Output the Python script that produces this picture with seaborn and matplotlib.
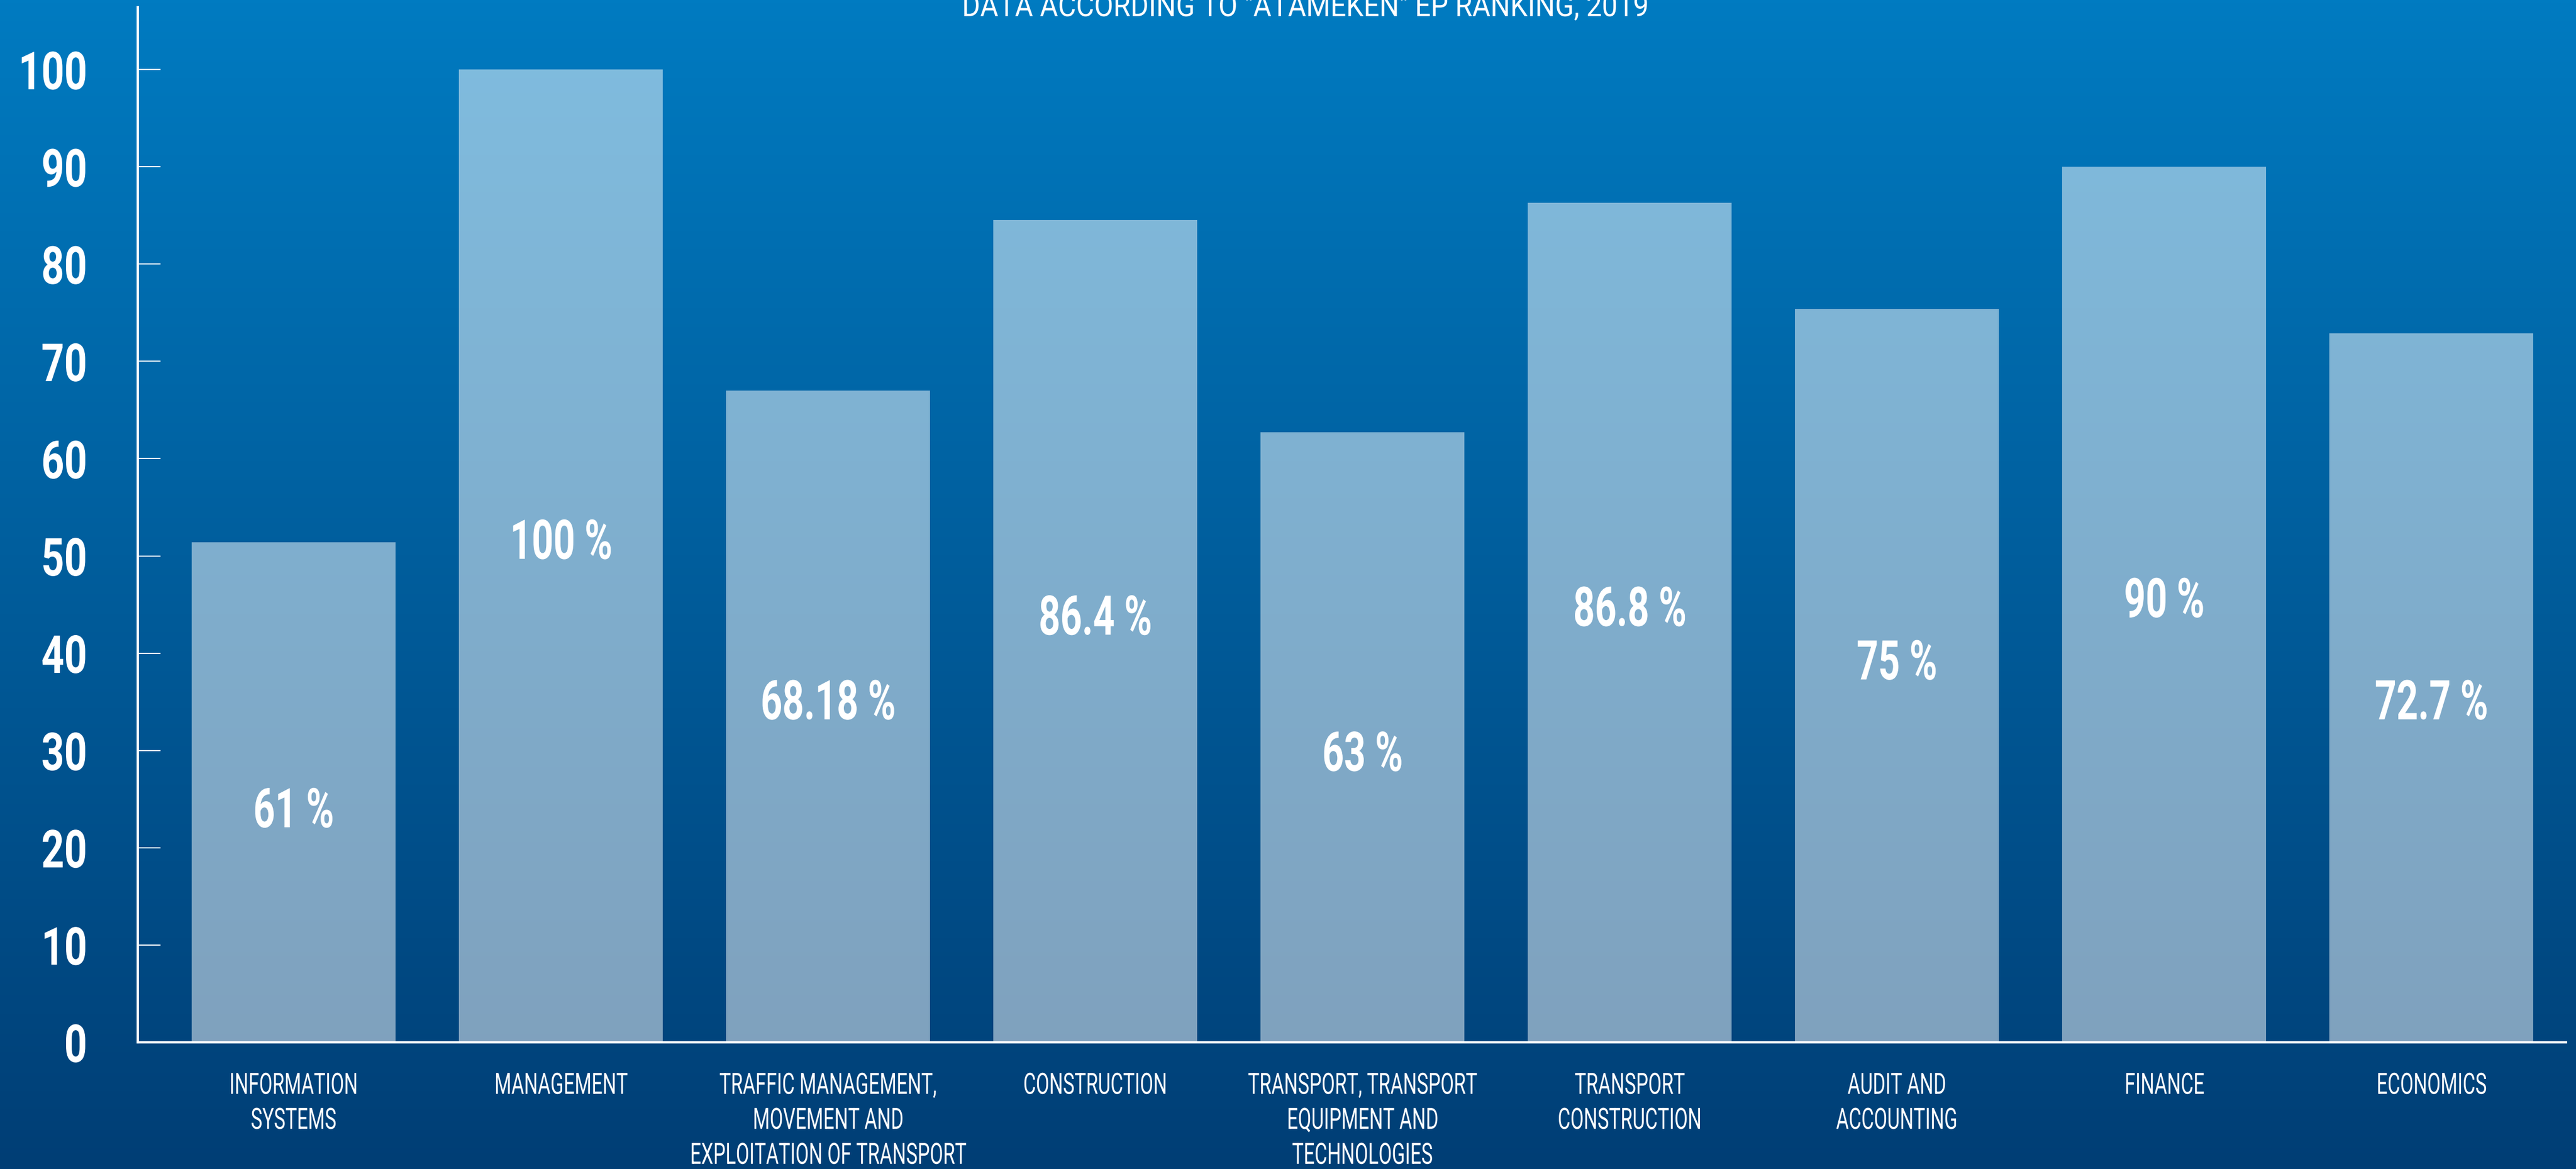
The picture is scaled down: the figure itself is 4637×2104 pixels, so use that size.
import matplotlib

matplotlib.use("Agg")

import matplotlib.pyplot as plt
import numpy as np
import seaborn as sns
from matplotlib.patheffects import AbstractPathEffect
from matplotlib.transforms import Affine2D

categories = [
    "INFORMATION\nSYSTEMS",
    "MANAGEMENT",
    "TRAFFIC MANAGEMENT,\nMOVEMENT AND\nEXPLOITATION OF TRANSPORT",
    "CONSTRUCTION",
    "TRANSPORT, TRANSPORT\nEQUIPMENT AND\nTECHNOLOGIES",
    "TRANSPORT\nCONSTRUCTION",
    "AUDIT AND\nACCOUNTING",
    "FINANCE",
    "ECONOMICS",
]
bar_heights = [51.4, 100.0, 67.0, 84.5, 62.7, 86.3, 75.4, 90.0, 72.9]
value_labels = ["61 %", "100 %", "68.18 %", "86.4 %", "63 %", "86.8 %", "75 %", "90 %", "72.7 %"]
label_heights = [22.1, 49.7, 33.2, 41.9, 27.9, 42.8, 37.3, 43.7, 33.2]
y_ticks = list(range(0, 101, 10))
title = 'DATA ACCORDING TO "ATAMEKEN" EP RANKING, 2019'


class Condense(AbstractPathEffect):
    """Squeeze text horizontally to mimic a condensed typeface."""

    def __init__(self, factor, anchor="center"):
        super().__init__()
        self.factor = factor
        self.anchor = anchor

    def draw_path(self, renderer, gc, tpath, affine, rgbFace=None):
        box = affine.transform_path(tpath).get_extents()
        if self.anchor == "right":
            cx = box.x1
        else:
            cx = (box.x0 + box.x1) / 2
        squeeze = affine + Affine2D().translate(-cx, 0).scale(self.factor, 1).translate(cx, 0)
        renderer.draw_path(gc, tpath, squeeze, rgbFace)


sns.set_theme(style="white")
plt.rcParams["font.family"] = ["Roboto", "DejaVu Sans"]

figure = plt.figure(figsize=(46.37, 21.04), dpi=100)

# vertical gradient background
background = figure.add_axes([0, 0, 1, 1], zorder=-1)
top = np.array([0, 123, 193]) / 255
bottom = np.array([1, 62, 117]) / 255
steps = np.linspace(0, 1, 512)[:, None]
gradient = (top * (1 - steps) + bottom * steps)[:, None, :]
background.imshow(gradient, aspect="auto", extent=[0, 1, 0, 1])
background.set_axis_off()

axis = figure.add_axes([0.0535, 0.1084, 0.9426, 0.8854])
axis.set_facecolor("none")
sns.barplot(x=categories, y=bar_heights, color="white", alpha=0.5, width=0.763,
            saturation=1, linewidth=0, ax=axis)

for position, (text, height) in enumerate(zip(value_labels, label_heights)):
    axis.text(position, height, text, ha="center", va="baseline", color="white",
              fontsize=71, fontweight="bold", path_effects=[Condense(0.69)])

axis.set_xlim(-0.583, 8.503)
axis.set_ylim(0, 106.4)
axis.set_yticks(y_ticks)
axis.set_yticklabels([str(t) for t in y_ticks], fontsize=68, fontweight="bold", color="white")
axis.tick_params(axis="y", direction="in", length=29.5, width=1.5, color="white", pad=65, left=True)
axis.tick_params(axis="x", length=0, pad=38, labelsize=38, labelcolor="white")
for label in axis.get_yticklabels():
    label.set_path_effects([Condense(0.76, anchor="right")])
for label in axis.get_xticklabels():
    label.set_linespacing(1.3)
    label.set_path_effects([Condense(0.66)])

for side in ["top", "right"]:
    axis.spines[side].set_visible(False)
for side in ["left", "bottom"]:
    axis.spines[side].set_color("white")
    axis.spines[side].set_linewidth(3)
axis.set(xlabel="", ylabel="")
axis.grid(False)

figure.text(0.5066, 0.9862, title, ha="center", va="baseline", color="white", fontsize=40,
            path_effects=[Condense(0.9)])

figure.savefig("out.png", dpi=100)
